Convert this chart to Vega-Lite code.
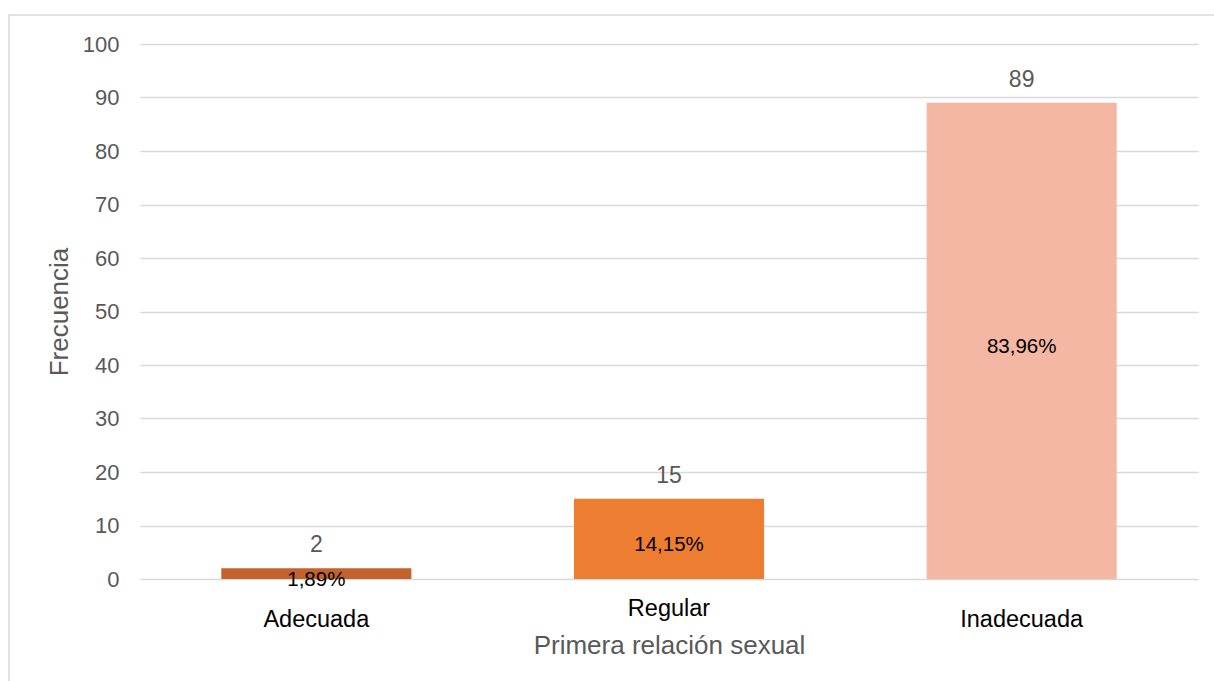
{
  "$schema": "https://vega.github.io/schema/vega-lite/v6.json",
  "autosize": {"type": "none"},
  "width": 1207,
  "height": 668,
  "padding": {"left": 9, "top": 15, "right": -2, "bottom": -2},
  "background": "#FFFFFF",
  "config": {
    "font": "Liberation Sans",
    "view": {"stroke": "#D9D9D9", "strokeWidth": 1.5}
  },
  "data": {
    "values": [
      {"categoria": "Adecuada", "frecuencia": 2, "porcentaje": "1,89%"},
      {"categoria": "Regular", "frecuencia": 15, "porcentaje": "14,15%"},
      {"categoria": "Inadecuada", "frecuencia": 89, "porcentaje": "83,96%"}
    ]
  },
  "transform": [{"calculate": "datum.frecuencia / 2", "as": "mitad"}],
  "encoding": {
    "x": {
      "field": "categoria",
      "type": "nominal",
      "sort": ["Adecuada", "Regular", "Inadecuada"],
      "scale": {"range": [131, 1189], "paddingInner": 0.461, "paddingOuter": 0.2305},
      "axis": {
        "title": "Primera relación sexual",
        "offset": -104,
        "domain": false,
        "ticks": false,
        "tickSize": 0,
        "grid": false,
        "labelAngle": 0,
        "labelFontSize": 23.5,
        "labelColor": "#000000",
        "labelBaseline": "alphabetic",
        "labelPadding": {"condition": {"test": "datum.value === 'Regular'", "value": 36}, "value": 47},
        "titleFontSize": 26,
        "titleFontWeight": "normal",
        "titleColor": "#595959",
        "titleBaseline": "alphabetic",
        "titleY": 74
      }
    }
  },
  "layer": [
    {
      "mark": {"type": "bar"},
      "encoding": {
        "y": {
          "field": "frecuencia",
          "type": "quantitative",
          "scale": {"domain": [0, 100], "range": [564, 29], "nice": false},
          "axis": {
            "title": "Frecuencia",
            "offset": -110,
            "values": [0, 10, 20, 30, 40, 50, 60, 70, 80, 90, 100],
            "domain": false,
            "ticks": false,
            "tickSize": 0,
            "labelPadding": 0,
            "labelFontSize": 22,
            "labelColor": "#595959",
            "grid": true,
            "gridColor": "#D9D9D9",
            "gridWidth": 1.4,
            "titleFontSize": 26,
            "titleFontWeight": "normal",
            "titleColor": "#595959",
            "titleBaseline": "alphabetic",
            "titleX": -52
          }
        },
        "color": {
          "field": "categoria",
          "type": "nominal",
          "scale": {
            "domain": ["Adecuada", "Regular", "Inadecuada"],
            "range": ["#C4622D", "#ED7D31", "#F4B7A3"]
          },
          "legend": null
        }
      }
    },
    {
      "mark": {"type": "text", "baseline": "alphabetic", "dy": -16, "fontSize": 23, "color": "#595959"},
      "encoding": {
        "y": {"field": "frecuencia", "type": "quantitative"},
        "text": {"field": "frecuencia", "type": "quantitative"}
      }
    },
    {
      "mark": {"type": "text", "baseline": "alphabetic", "dy": 12, "fontSize": 20.5, "color": "#000000"},
      "encoding": {
        "y": {"field": "mitad", "type": "quantitative"},
        "text": {"field": "porcentaje", "type": "nominal"}
      }
    }
  ]
}
